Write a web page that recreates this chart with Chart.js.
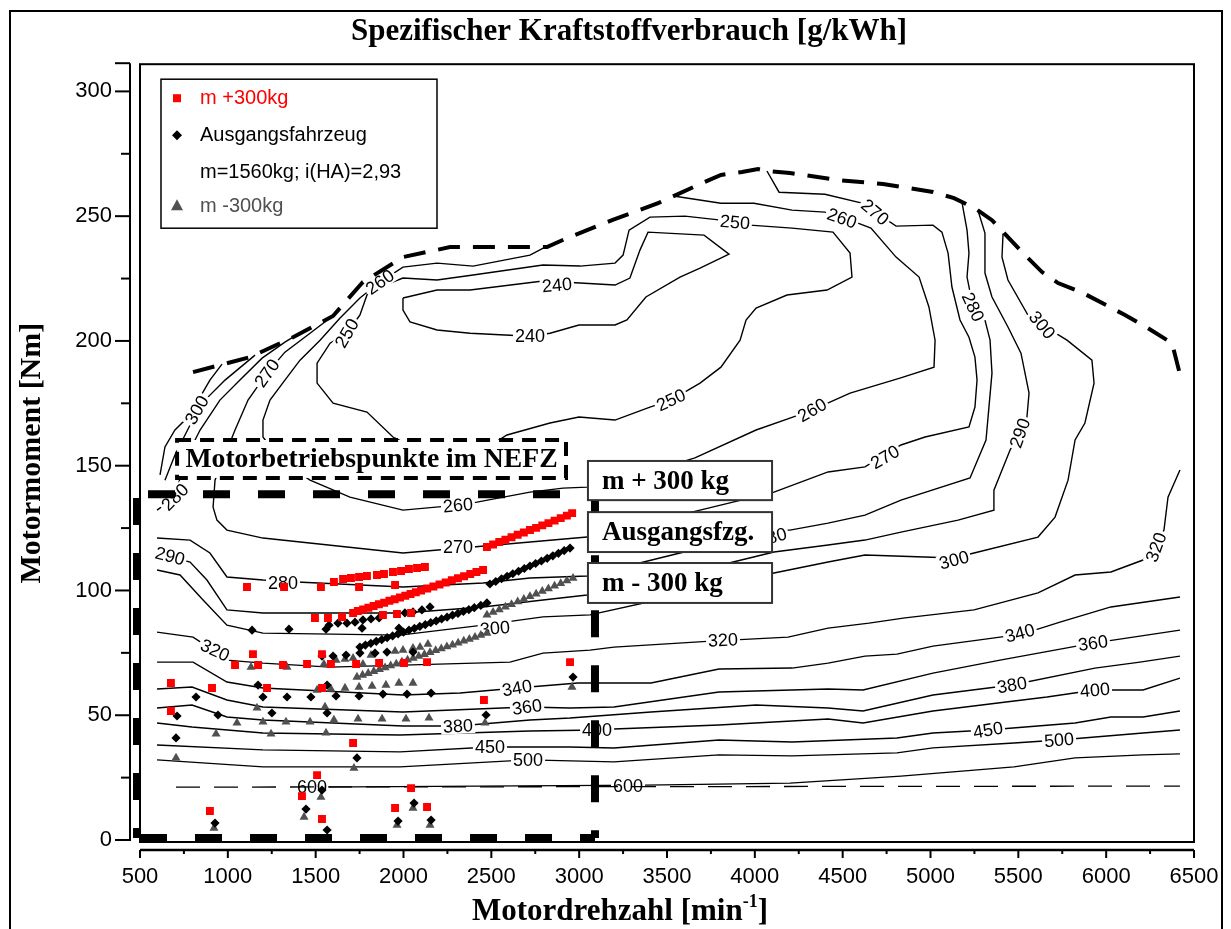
<!DOCTYPE html>
<html><head><meta charset="utf-8">
<script src="https://cdn.jsdelivr.net/npm/chart.js@4/dist/chart.umd.min.js"></script>
<style>html,body{margin:0;padding:0;background:#fff}#wrap{width:1231px;height:929px;position:relative}</style>
</head><body><div id="wrap"><canvas id="c" width="1231" height="929"></canvas></div>
<script>
// ---------- tick labels ----------
const xTicks = [500,1000,1500,2000,2500,3000,3500,4000,4500,5000,5500,6000,6500];
const yTicks = [0,50,100,150,200,250,300];
const yMinor = [25,75,125,175,225,275];

// ---------- full-load curve & contour lines [rpm, Nm] ----------
const fullLoad = [[802,187.5],[1126,193.5],[1371,201.5],[1599,210.0],[1769,223.6],[1997,233.6],[2265,237.6],[2817,237.6],[2931,241.2],[3187,248.4],[3449,255.2],[3676,262.5],[3807,266.5],[3927,267.7],[4018,268.9],[4069,268.1],[4200,267.3],[4468,264.5],[4730,262.9],[5014,259.7],[5134,257.2],[5253,253.2],[5350,248.4],[5441,241.6],[5538,234.4],[5635,227.6],[5726,223.2],[5868,219.2],[6107,210.4],[6227,205.6],[6375,199.1],[6415,188.0]];
const iso240 = [[1997,217.2],[2191,220.4],[2379,220.4],[2794,224.0],[3005,223.2],[3204,222.4],[3289,225.2],[3346,236.4],[3392,243.6],[3711,242.4],[3853,234.8],[3688,229.2],[3574,225.6],[3380,217.6],[3272,208.4],[3204,206.4],[2999,206.4],[2834,203.1],[2720,201.9],[2379,203.1],[2191,204.4],[2037,207.6],[1997,212.4],[1997,217.2]];
const iso250 = [[1752,210.4],[1792,218.4],[1866,221.6],[1997,225.2],[2191,224.4],[2396,226.4],[2794,230.4],[3005,230.0],[3204,231.2],[3250,234.4],[3284,244.4],[3403,249.6],[3602,250.0],[3807,248.4],[3973,246.4],[4212,245.2],[4445,243.6],[4542,235.2],[4553,225.6],[4411,220.4],[4183,218.4],[4007,213.2],[3950,208.4],[3916,200.3],[3807,189.5],[3688,183.1],[3523,176.3],[3403,173.5],[3204,168.3],[2999,169.5],[2834,167.1],[2589,162.3],[2435,155.5],[2151,154.3],[1940,161.5],[1792,171.5],[1599,175.1],[1508,183.1],[1508,191.1],[1582,199.1],[1678,203.1],[1752,210.4]];
const iso260 = [[2817,238.0],[2720,234.4],[2396,230.0],[2191,231.2],[1997,229.6],[1866,223.6],[1752,217.2],[1639,209.2],[1525,200.3],[1411,192.3],[1325,184.3],[1240,176.3],[1200,168.3],[1200,161.5],[1297,152.3],[1468,144.2],[1695,137.4],[1997,132.2],[2310,134.2],[2418,135.4],[2720,139.4],[2908,141.0],[3045,141.4],[3346,146.3],[3659,153.1],[4007,164.3],[4200,169.1],[4326,172.3],[4542,179.1],[4826,185.1],[5020,189.5],[5026,200.3],[4991,213.6],[4935,225.6],[4804,233.6],[4661,245.2],[4587,247.2],[4496,249.2],[4399,251.6],[4212,252.4],[3995,255.2],[3807,255.2],[3546,258.0]];
const iso270 = [[1582,209.2],[1468,203.1],[1325,195.5],[1223,187.1],[1115,176.3],[1041,164.3],[984,154.3],[927,144.2],[916,133.4],[938,128.2],[995,124.2],[1200,121.0],[1997,115.0],[2396,117.4],[3045,121.4],[3688,132.2],[4109,139.4],[4417,147.5],[4627,149.5],[4832,158.3],[4969,161.5],[5219,165.5],[5253,173.5],[5265,184.3],[5253,193.5],[5219,201.5],[5168,208.4],[5122,221.6],[5100,235.2],[5065,243.6],[5014,246.4],[4804,246.0],[4610,255.2],[4399,258.8],[4138,259.6],[4069,268.1]];
const iso280a = [[1371,201.5],[1325,199.5],[1195,193.1],[1069,184.3],[955,176.3],[842,164.3],[756,152.3],[699,137.4],[597,132.2]];
const iso280b = [[597,121.0],[785,120.2],[898,115.0],[995,105.4],[1200,104.2],[1394,103.4],[1997,101.4],[2453,103.0],[2720,105.0],[3045,105.8],[3574,115.0],[4109,124.2],[4200,124.2],[4417,127.0],[4627,130.2],[4832,136.2],[5225,145.1],[5316,160.3],[5350,187.1],[5339,200.3],[5310,208.4],[5242,213.6],[5208,225.6],[5219,235.2],[5208,244.4],[5179,255.6]];
const iso290a = [[1155,194.3],[984,184.3],[870,176.3],[785,166.3],[699,154.3],[642,144.2]];
const iso290b = [[597,115.0],[785,111.4],[881,104.2],[995,92.2],[1200,91.0],[1997,91.0],[2453,93.4],[2794,96.2],[3045,98.2],[3574,106.2],[4109,115.4],[4417,118.2],[4627,120.2],[4832,123.4],[5157,128.2],[5361,132.2],[5361,140.2],[5453,156.3],[5515,164.3],[5549,169.5],[5561,179.1],[5515,195.1],[5441,205.6],[5350,217.6],[5310,227.2],[5310,243.2],[5270,252.4]];
const iso300a = [[967,190.7],[898,184.3],[842,177.5],[785,170.3],[699,164.3],[642,157.5],[614,146.3]];
const iso300b = [[597,108.2],[728,106.2],[859,96.2],[995,86.1],[1200,82.9],[1980,82.1],[2453,86.1],[2794,89.4],[3062,90.2],[3574,98.2],[4109,107.0],[4417,111.4],[4627,114.2],[5134,113.0],[5248,115.0],[5612,121.4],[5709,129.4],[5783,144.2],[5823,160.3],[5879,167.1],[5931,183.1],[5919,192.3],[5777,200.3],[5635,206.4],[5561,209.6],[5441,224.4],[5407,233.6],[5413,243.0]];
const iso320 = [[597,83.3],[802,81.3],[916,76.1],[995,72.1],[1200,70.9],[1582,69.3],[1997,70.1],[2606,71.3],[2794,74.9],[3062,76.1],[3198,77.3],[3750,79.7],[4189,81.3],[4417,84.9],[4650,86.9],[4855,89.0],[5248,92.2],[5612,99.0],[5823,106.2],[6027,107.4],[6210,112.2],[6284,117.4],[6329,124.2],[6352,137.4],[6420,148.3]];
const iso340 = [[597,71.3],[802,71.3],[995,63.3],[1200,60.9],[1997,58.1],[2322,58.9],[2646,60.9],[2993,62.9],[3409,62.9],[3796,68.5],[4212,68.9],[4417,70.9],[4627,73.7],[4809,74.5],[5014,77.7],[5270,80.1],[5521,82.5],[5737,87.3],[6027,93.4],[6420,97.4]];
const iso360 = [[597,60.5],[796,61.3],[995,56.1],[1200,53.3],[1997,51.3],[2703,53.3],[2948,52.9],[3198,53.3],[3796,59.3],[4417,60.5],[4616,60.1],[5014,66.9],[5396,72.1],[5925,78.9],[6192,81.7],[6420,84.1]];
const iso380 = [[597,52.9],[796,54.1],[995,49.3],[1200,48.1],[1997,45.7],[2310,45.7],[2720,48.1],[2948,48.9],[3409,51.3],[4007,54.1],[4417,52.9],[4616,51.7],[5014,58.1],[5464,62.1],[5936,68.9],[6192,71.3],[6420,73.7]];
const iso400 = [[597,46.9],[796,45.3],[1200,42.9],[1980,42.1],[2720,43.7],[3102,44.1],[3198,44.5],[3796,46.1],[4417,48.5],[4616,46.9],[5014,51.7],[5430,55.3],[5663,57.3],[5936,60.1],[6210,60.1],[6420,64.9]];
const iso450 = [[597,38.1],[1200,36.1],[1980,35.3],[2492,37.3],[2948,37.3],[3198,36.9],[3796,40.1],[4212,39.3],[4809,40.9],[5014,42.9],[5327,44.1],[5823,46.9],[6027,49.3],[6210,49.3],[6420,51.7]];
const iso500 = [[597,32.1],[1200,29.3],[1980,29.3],[2709,32.1],[3198,31.3],[3796,34.1],[4212,33.7],[4809,34.9],[5014,36.9],[5475,38.9],[5732,40.1],[6210,42.9],[6420,44.1]];
const iso600 = [[1479,21.2],[3375,22.0],[4200,22.8],[4832,25.6],[5475,29.3],[5823,32.9],[6210,34.1],[6420,34.5]];
const thinDash = [[705,21.2],[6420,21.6]];
// NEFZ operating-range frame, one array per edge
const nefzTop = [[483,138.6],[3090,138.6]];
const nefzRight = [[3090,138.6],[3090,0.8]];
const nefzBottom = [[483,0.8],[3090,0.8]];
const nefzLeft = [[483,0.8],[483,138.6]];

// contour labels: [text, rpm, Nm, angle]
const isoLabels = [
 ['240',2874,222.4,-5],['240',2720,201.9,0],
 ['250',3887,247.6,5],['250',3523,176.3,-25],['250',1678,203.1,-60],
 ['260',4496,249.2,20],['260',4326,172.3,-30],['260',2310,134.2,-5],['260',1866,223.6,-35],
 ['270',4684,251.6,40],['270',4741,153.5,-30],['270',2310,117.4,0],['270',1223,187.1,-55],
 ['280',5242,213.6,65],['280',4097,121.4,-15],['280',1314,103.0,0],['280',699,137.4,-45],
 ['290',5509,163.1,-70],['290',671,113.8,15],
 ['300',5635,206.4,50],['300',5134,112.2,-15],['300',2521,84.9,-5],['300',824,172.3,-60],
 ['320',3819,80.1,-3],['320',6284,117.4,-70],['320',927,76.1,25],
 ['340',5509,82.9,-15],['340',2646,60.9,-10],
 ['360',5925,78.9,-8],['360',2703,53.3,-8],
 ['380',5464,62.1,-10],['380',2310,45.7,-3],
 ['400',5936,60.1,-5],['400',3102,44.1,0],
 ['450',5327,44.1,-10],['450',2492,37.3,0],
 ['500',5732,40.1,-5],['500',2709,32.1,0],
 ['600',1479,21.2,0],['600',3278,21.6,0]
];

// ---------- operating points [rpm, Nm] ----------
const plus300 = [[1109,101.4],[1320,101.4],[1530,101.4],[1604,103.4],[1656,104.6],[1701,105.0],[1747,105.4],[1792,105.8],[1849,106.2],[1889,106.6],[1940,107.4],[1986,107.8],[2031,108.6],[2077,109.0],[2122,109.4],[1747,101.4],[1952,102.2],
[1496,89.0],[1570,89.0],[1650,89.4],[1883,90.2],[1963,90.6],[2043,91.0],
[1713,91.0],[1740,91.8],[1770,92.4],[1800,93.1],[1830,93.8],[1860,94.5],[1890,95.1],[1920,95.9],[1950,96.5],[1980,97.2],[2010,97.9],[2040,98.6],[2070,99.3],[2100,100.0],[2135,100.8],[2170,101.6],[2205,102.4],[2240,103.2],[2275,104.1],[2310,104.9],[2345,105.7],[2380,106.6],[2415,107.4],[2453,108.2],
[2475,117.4],[2510,118.4],[2545,119.4],[2580,120.3],[2615,121.3],[2650,122.3],[2685,123.2],[2720,124.2],[2755,125.1],[2790,126.1],[2825,127.0],[2860,128.0],[2895,129.0],[2930,130.0],[2960,131.0],
[1143,74.5],[1536,74.5],[1041,70.1],[1172,70.1],[1314,70.1],[1451,70.5],[1587,70.5],[1730,70.5],[1861,70.9],[2003,70.9],[2134,71.3],
[676,62.9],[910,60.9],[1223,60.9],[1536,60.9],[676,51.7],[2458,56.1],[2948,71.3],
[1713,38.9],[1508,26.0],[1422,17.6],[2043,20.8],[898,11.6],[1536,8.4],[1952,12.8],[2134,13.2]];
const baseCar = [[1138,84.1],[1348,84.5],[1559,84.5],[1576,86.1],[1627,86.9],[1678,86.9],[1724,87.3],[1769,88.2],[1815,88.6],[1861,89.0],[1764,84.9],[1974,84.9],[2008,91.0],[2054,91.4],[2105,92.2],[2151,93.4],
[2492,102.6],[2525,103.6],[2558,104.7],[2590,105.7],[2622,106.7],[2655,107.7],[2688,108.8],[2720,109.8],[2752,110.8],[2785,111.8],[2818,112.9],[2850,113.9],[2882,114.9],[2915,116.0],[2948,117.0],
[1752,77.3],[1783,78.1],[1814,78.8],[1845,79.6],[1876,80.3],[1907,81.1],[1938,81.8],[1969,82.6],[2000,83.3],[2031,84.1],[2062,84.8],[2093,85.6],[2124,86.3],[2155,87.1],[2186,87.8],[2217,88.6],[2248,89.3],[2279,90.1],[2310,90.8],[2341,91.6],[2372,92.3],[2403,93.1],[2440,94.0],[2475,95.0],
[1536,73.7],[1599,73.7],[1673,74.1],[1752,74.9],[1838,74.9],[1906,75.3],[2054,75.3],
[1172,62.1],[819,57.3],[1200,57.3],[1337,57.3],[1473,57.3],[1565,62.1],[1616,57.7],[1747,57.7],[1883,58.5],[2020,58.5],[2157,58.9],
[711,49.7],[944,50.1],[1251,50.9],[1565,50.9],
[705,40.9],[1735,32.9],[2470,50.1],[2965,65.3],
[1536,20.0],[1445,12.4],[927,6.8],[1565,4.0],[1969,7.6],[2060,14.8],[2157,8.0]];
const minus300 = [[1132,69.3],[1337,69.3],[1547,70.5],[1616,72.1],[1667,72.5],[1713,72.9],[1769,70.5],[1815,74.1],[1952,75.7],[1997,76.1],[2054,76.9],[2094,77.3],[2139,78.5],
[1735,65.3],[1767,66.1],[1799,66.8],[1831,67.6],[1863,68.4],[1895,69.1],[1927,69.9],[1959,70.6],[1991,71.4],[2023,72.2],[2055,72.9],[2087,73.7],[2119,74.4],[2151,75.2],[2183,76.0],[2215,76.7],[2247,77.5],[2279,78.2],[2311,79.0],[2343,79.8],[2375,80.5],[2407,81.3],[2440,82.1],[2475,82.9],
[2475,90.2],[2510,91.3],[2545,92.3],[2580,93.4],[2615,94.4],[2650,95.5],[2685,96.5],[2720,97.6],[2755,98.6],[2790,99.7],[2825,100.7],[2860,101.8],[2895,102.8],[2930,103.9],[2965,104.9],
[1508,60.1],[1587,60.5],[1667,60.9],[1747,61.3],[1821,61.7],[1900,62.1],[1974,62.9],[2054,62.9],
[1166,52.9],[1553,53.3],
[1052,46.9],[1200,47.3],[1331,47.3],[1468,47.3],[1604,48.1],[1741,48.5],[1878,48.5],[2014,48.5],[2145,48.9],[2464,46.9],
[933,42.5],[1246,42.5],[1559,42.9],
[705,32.9],[1718,28.8],[1530,17.2],[1434,9.2],[921,4.8],[1963,6.0],[2054,12.8],[2151,6.0],[2959,61.3]];

// ---------- text boxes (anchored in data space) ----------
const noteBoxes = [
  {text:'m + 300 kg', x0:3050, x1:4098, y0:151.9, y1:136.2},
  {text:'Ausgangsfzg.', x0:3050, x1:4098, y0:131.4, y1:115.4},
  {text:'m - 300 kg', x0:3050, x1:4098, y0:111.0, y1:95.0}
];
const nefzLabel = {text:'Motorbetriebspunkte im NEFZ', x0:711, x1:2925, y0:160.3, y1:145.1};

const SERIF = '"Liberation Serif","Times New Roman",serif';
const SANS = '"Liberation Sans",Arial,sans-serif';

const contourList = [iso240, iso250, iso260, iso270, iso280a, iso280b, iso290a, iso290b, iso300a, iso300b, iso320, iso340, iso360, iso380, iso400, iso450, iso500, iso600];

const nefzStyle = {showLine:true, pointRadius:0, borderColor:'#000', borderWidth:8, borderDash:[27,28], borderCapStyle:'butt', clip:false, order:4};
const datasets = [
  {label:'m +300kg', data:plus300, pointStyle:'rect', pointRadius:5.6, backgroundColor:'#ff0000', borderWidth:0, order:0},
  {label:'Ausgangsfahrzeug', data:baseCar, pointStyle:'rectRot', pointRadius:4.6, backgroundColor:'#000', borderWidth:0, order:1},
  {label:'m -300kg', data:minus300, pointStyle:'triangle', pointRadius:5.2, backgroundColor:'#505050', borderWidth:0, order:2},
  Object.assign({label:'NEFZ top', data:nefzTop, borderDashOffset:44}, nefzStyle),
  Object.assign({label:'NEFZ right', data:nefzRight, borderDashOffset:49}, nefzStyle),
  Object.assign({label:'NEFZ bottom', data:nefzBottom, borderDashOffset:52}, nefzStyle),
  Object.assign({label:'NEFZ left', data:nefzLeft, borderDashOffset:17}, nefzStyle),
  {label:'Volllast', data:fullLoad, showLine:true, pointRadius:0, borderColor:'#000', borderWidth:4, borderDash:[22,13], order:5},
  {label:'thin', data:thinDash, showLine:true, pointRadius:0, borderColor:'#000', borderWidth:1.3, borderDash:[24,14], order:6}
];
contourList.forEach((c,i)=>datasets.push({label:'iso'+i, data:c, showLine:true, pointRadius:0, borderColor:'#000', borderWidth:1.4, tension:0, order:10, isoLabelsAfter:i===0}));

function drawIsoLabels(chart){
  const {ctx, scales:{x,y}} = chart;
  ctx.save();
  ctx.font = '18px ' + SANS;
  ctx.textAlign='center'; ctx.textBaseline='middle';
  isoLabels.forEach(([t,r,n,a])=>{
    const px=x.getPixelForValue(r), py=y.getPixelForValue(n);
    ctx.save(); ctx.translate(px,py); ctx.rotate(a*Math.PI/180);
    const w=ctx.measureText(t).width;
    ctx.fillStyle='#fff'; ctx.fillRect(-w/2-2,-8,w+4,16);
    ctx.fillStyle='#000'; ctx.fillText(t,0,1);
    ctx.restore();
  });
  ctx.restore();
}

const decor = {
  id:'decor',
  beforeDraw(chart){
    const ctx=chart.ctx;
    ctx.save(); ctx.fillStyle='#fff'; ctx.fillRect(0,0,chart.width,chart.height);
    ctx.strokeStyle='#000'; ctx.lineWidth=2;
    ctx.beginPath(); ctx.moveTo(10,chart.height); ctx.lineTo(10,11); ctx.lineTo(1222,11); ctx.lineTo(1222,chart.height); ctx.stroke();
    ctx.restore();
  },
  afterDatasetDraw(chart,args){
    const ds=chart.data.datasets[args.index];
    if(ds.isoLabelsAfter) drawIsoLabels(chart);
  },
  afterDatasetsDraw(chart){
    const {ctx, chartArea:ca, scales:{x,y}} = chart;
    ctx.save();
    ctx.strokeStyle='#000'; ctx.fillStyle='#000';
    ctx.lineWidth=2; ctx.strokeRect(ca.left,ca.top,ca.right-ca.left,ca.bottom-ca.top);
    const ax=ca.left-10;
    ctx.beginPath(); ctx.moveTo(ax,ca.top-1); ctx.lineTo(ax,y.getPixelForValue(0)+1); ctx.stroke();
    ctx.beginPath(); ctx.moveTo(ax-15,ca.top-1); ctx.lineTo(ax,ca.top-1); ctx.stroke();
    yTicks.forEach(v=>{const p=y.getPixelForValue(v); ctx.beginPath(); ctx.moveTo(ax-15,p); ctx.lineTo(ax,p); ctx.stroke();});
    yMinor.forEach(v=>{const p=y.getPixelForValue(v); ctx.beginPath(); ctx.moveTo(ax-9,p); ctx.lineTo(ax,p); ctx.stroke();});
    const ay=ca.bottom+8;
    ctx.lineWidth=2.5;
    ctx.beginPath(); ctx.moveTo(ca.left,ay); ctx.lineTo(ca.right,ay); ctx.stroke();
    ctx.lineWidth=2;
    xTicks.forEach((v,i)=>{const p=x.getPixelForValue(v); ctx.beginPath(); ctx.moveTo(p,ay); ctx.lineTo(p,ay+8); ctx.stroke();
      if(i<xTicks.length-1){const q=x.getPixelForValue(v+250); ctx.beginPath(); ctx.moveTo(q,ay); ctx.lineTo(q,ay+4); ctx.stroke();}});
    {
      const l=x.getPixelForValue(nefzLabel.x0), r=x.getPixelForValue(nefzLabel.x1), t=y.getPixelForValue(nefzLabel.y0), b=y.getPixelForValue(nefzLabel.y1);
      ctx.fillStyle='#fff'; ctx.fillRect(l,t,r-l,b-t);
      ctx.setLineDash([14,9]); ctx.lineWidth=4; ctx.strokeRect(l,t,r-l,b-t); ctx.setLineDash([]);
      ctx.fillStyle='#000'; ctx.font='bold 27.7px '+SERIF; ctx.textAlign='center'; ctx.textBaseline='middle';
      ctx.fillText(nefzLabel.text,(l+r)/2,(t+b)/2+1);
    }
    noteBoxes.forEach(bx=>{
      const l=x.getPixelForValue(bx.x0), r=x.getPixelForValue(bx.x1), t=y.getPixelForValue(bx.y0), b=y.getPixelForValue(bx.y1);
      ctx.fillStyle='#fff'; ctx.fillRect(l,t,r-l,b-t);
      ctx.lineWidth=2; ctx.strokeStyle='#333'; ctx.strokeRect(l,t,r-l,b-t); ctx.strokeStyle='#000';
      ctx.fillStyle='#000'; ctx.font='bold 27px '+SERIF; ctx.textAlign='left'; ctx.textBaseline='middle';
      ctx.fillText(bx.text,l+14,(t+b)/2+1);
    });
    {
      const lx=ca.left+21, ly=ca.top+15, lw=276, lh=149;
      ctx.fillStyle='#fff'; ctx.fillRect(lx,ly,lw,lh);
      ctx.lineWidth=1.5; ctx.strokeRect(lx,ly,lw,lh);
      ctx.font='20px '+SANS; ctx.textAlign='left'; ctx.textBaseline='middle';
      const mx=lx+16, tx=lx+39;
      ctx.fillStyle='#ff0000'; ctx.fillRect(mx-4,ly+19-4,8,8); ctx.fillText(datasets[0].label,tx,ly+19);
      ctx.fillStyle='#000'; ctx.beginPath(); ctx.moveTo(mx,ly+56-5); ctx.lineTo(mx+5,ly+56); ctx.lineTo(mx,ly+56+5); ctx.lineTo(mx-5,ly+56); ctx.closePath(); ctx.fill();
      ctx.fillText(datasets[1].label,tx,ly+56);
      ctx.fillText('m=1560kg; i(HA)=2,93',tx,ly+93);
      ctx.fillStyle='#505050'; ctx.beginPath(); ctx.moveTo(mx,ly+126-6); ctx.lineTo(mx+6,ly+126+5); ctx.lineTo(mx-6,ly+126+5); ctx.closePath(); ctx.fill();
      ctx.fillText(datasets[2].label,tx,ly+127);
    }
    ctx.fillStyle='#000'; ctx.font='bold 30px '+SERIF; ctx.textAlign='center'; ctx.textBaseline='middle';
    ctx.save(); ctx.translate(32,(ca.top+ca.bottom)/2); ctx.rotate(-Math.PI/2); ctx.fillText('Motormoment [Nm]',0,0); ctx.restore();
    {
      const a='Motordrehzahl [min', s='-1', e=']';
      ctx.font='bold 31px '+SERIF; const wa=ctx.measureText(a).width, we=ctx.measureText(e).width;
      ctx.font='bold 18px '+SERIF; const ws=ctx.measureText(s).width;
      const cx=620, cy=912; let sx=cx-(wa+ws+we)/2;
      ctx.textAlign='left';
      ctx.font='bold 31px '+SERIF; ctx.fillText(a,sx,cy); sx+=wa;
      ctx.font='bold 18px '+SERIF; ctx.fillText(s,sx,cy-10); sx+=ws;
      ctx.font='bold 31px '+SERIF; ctx.fillText(e,sx,cy);
    }
    ctx.restore();
  }
};

new Chart(document.getElementById('c'), {
  type:'scatter',
  data:{datasets},
  options:{
    responsive:false, animation:false, events:[],
    layout:{padding:{left:64,right:37,top:0,bottom:0}},
    plugins:{
      legend:{display:false}, tooltip:{enabled:false},
      title:{display:true, text:'Spezifischer Kraftstoffverbrauch [g/kWh]', color:'#000',
        font:{family:SERIF, size:31, weight:'bold', lineHeight:1.2}, padding:{top:13,bottom:14}}
    },
    scales:{
      x:{type:'linear', min:500, max:6500,
        grid:{display:false, drawTicks:false}, border:{display:false},
        ticks:{color:'#000', font:{family:SANS, size:22}, padding:22, maxRotation:0, autoSkip:false, callback:v=>String(v)},
        afterBuildTicks:s=>{s.ticks=xTicks.map(v=>({value:v}));},
        afterFit:s=>{s.height=87; s.paddingLeft=0; s.paddingRight=0;}},
      y:{type:'linear', min:-0.8, max:310.9,
        grid:{display:false, drawTicks:false}, border:{display:false},
        ticks:{color:'#000', font:{family:SANS, size:22}, padding:28, autoSkip:false, callback:v=>String(v)},
        afterBuildTicks:s=>{s.ticks=yTicks.map(v=>({value:v}));},
        afterFit:s=>{s.width=76; s.paddingTop=0; s.paddingBottom=0;}}
    }
  },
  plugins:[decor]
});
</script></body></html>
